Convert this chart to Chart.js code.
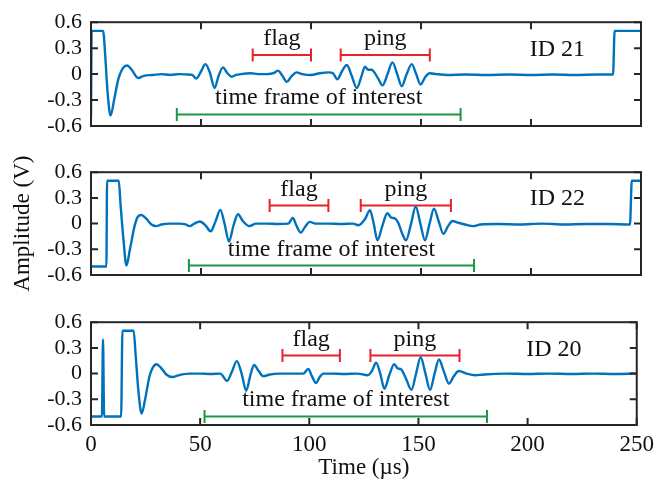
<!DOCTYPE html>
<html>
<head>
<meta charset="utf-8">
<script src="https://cdn.jsdelivr.net/npm/chart.js@4.4.0/dist/chart.umd.min.js"></script>
<style>
  body { margin: 0; background: #fff; }
  #wrap { position: relative; width: 660px; height: 483px; background: #fff; }
  canvas { position: absolute; left: 0; }
</style>
</head>
<body>
<div id="wrap">
  <canvas id="panel21" width="660" height="150" style="top:0px"></canvas>
  <canvas id="panel22" width="660" height="150" style="top:150px"></canvas>
  <canvas id="panel20" width="660" height="183" style="top:300px"></canvas>
</div>
<script>
// Axis ticks
const xTicks = [0, 50, 100, 150, 200, 250];
const xTickLabels = ['0', '50', '100', '150', '200', '250'];
const yTicks = [-0.6, -0.3, 0, 0.3, 0.6];
const yTickLabels = ['-0.6', '-0.3', '0', '0.3', '0.6'];

// ID 21 trace (time in us, amplitude in V)
const id21Time = [0, 0.3, 5.5, 6.5, 7.5, 8.9, 10.5, 12.5, 14.5, 16.4, 18.5, 21.4, 24, 28, 32, 36, 40, 44, 46, 47.9,
  50, 52, 54, 56.2, 58, 60, 62, 64, 66, 68, 72.6, 76, 80, 83, 85, 87, 89, 91, 93.5, 96, 100, 104, 108, 110, 112,
  114, 116.3, 118.5, 120.8, 123, 124.5, 126, 127.5, 128.5, 130.5, 132.5, 134.8, 137, 139.2, 141.2, 143.5, 145.8,
  147.8, 149.8, 152, 154, 157, 162, 170, 180, 190, 200, 210, 220, 230, 237.3, 238, 250];
const id21Amp = [-0.5, 0.5, 0.5, 0.2, -0.2, -0.48, -0.3, -0.05, 0.07, 0.1, 0.05, -0.045, -0.02, -0.01, 0, -0.01, 0, -0.005, -0.01, -0.05,
  0.03, 0.115, 0.02, -0.16, -0.02, 0.078, 0.01, -0.03, -0.01, 0, 0.01, 0, 0, 0.01, 0.04, -0.02, -0.09, -0.03, 0.02, 0, -0.01, 0.01, 0.02, 0.01, -0.06,
  0.03, 0.105, -0.02, -0.16, -0.02, 0.085, 0.05, 0.05, 0.03, -0.05, -0.13, 0, 0.135, 0, -0.14, 0, 0.115,
  0, -0.12, -0.03, 0.01, 0, -0.01, -0.005, -0.01, -0.005, -0.01, -0.005, -0.01, -0.005, -0.005, 0.5, 0.5];

// ID 22 trace
const id22Time = [0, 7, 7.3, 12.6, 13.5, 14.8, 16.1, 17.7, 19.8, 21.3, 22.9, 25, 27.5, 29.7, 32, 36, 40, 43, 44.8, 47,
  49.5, 52, 54.4, 56.5, 58.8, 60.7, 62.7, 64.8, 66.8, 69, 72, 75, 80, 85, 89.7, 91.7, 93.5, 95.3, 97.5, 99.5, 102,
  108, 114, 119, 121.5, 124.5, 126.8, 128.5, 130.2, 132.5, 134.7, 136.5, 138.2, 139.8, 141.5, 143.2, 145.5, 147.6,
  149.7, 151.8, 153.9, 155.9, 158, 160.2, 162.3, 164.4, 167, 170, 173.8, 177, 185, 195, 205, 215, 225, 235, 245,
  245.8, 250];
const id22Amp = [-0.5, -0.5, 0.5, 0.5, 0.2, -0.2, -0.49, -0.3, -0.03, 0.08, 0.1, 0.06, -0.01, -0.03, -0.01, 0, 0, -0.01, -0.03, 0,
  0.025, -0.02, -0.09, 0.02, 0.16, 0, -0.21, -0.02, 0.11, 0.03, -0.03, 0, 0, -0.005, 0, 0.065, -0.03, -0.105, -0.03, 0.02, 0,
  0, -0.005, 0, -0.02, 0.05, 0.155, 0, -0.195, -0.02, 0.12, 0.07, 0.06, 0, -0.12, -0.195, 0, 0.2,
  0, -0.195, 0, 0.175, 0.03, -0.12, -0.03, 0.03, 0.01, -0.01, -0.03, -0.01, -0.005, -0.01, 0, -0.01, -0.005, -0.005, -0.01,
  0.5, 0.5];

// ID 20 trace
const id20Time = [0, 5, 5.5, 6, 13.8, 14.4, 19.5, 20.5, 21.7, 23.2, 24.8, 26.8, 28.3, 30, 32, 34.5, 37.3, 40, 45, 50,
  55, 59.2, 62.3, 64.5, 66.8, 69, 71.1, 73, 74.7, 76.8, 78.9, 82, 86, 92, 97.3, 99.5, 101.2, 103, 104.8, 106.4, 110,
  116, 122, 126.8, 128.7, 130.6, 132.5, 134.4, 136.6, 138.9, 140.5, 142, 144.3, 146.8, 148.9, 151, 153.2, 155.3,
  157.4, 159.4, 161.7, 164, 166.2, 168.5, 172, 176, 180, 190, 200, 210, 220, 230, 240, 250];
const id20Amp = [-0.5, -0.5, 0.4, -0.5, -0.5, 0.5, 0.5, 0.2, -0.2, -0.465, -0.3, -0.03, 0.07, 0.11, 0.07, -0.01, -0.04, -0.02, 0, 0,
  -0.005, 0, -0.085, 0.02, 0.146, 0, -0.2, -0.02, 0.1, 0.03, -0.03, -0.01, 0, 0, 0, 0.055, -0.03, -0.11, -0.04, 0, 0,
  -0.005, 0, -0.02, 0.03, 0.128, 0, -0.176, -0.02, 0.11, 0.06, 0.05, -0.06, -0.19, 0, 0.19, 0, -0.19,
  0, 0.165, 0.02, -0.117, -0.03, 0.03, 0, -0.02, -0.01, 0, -0.005, 0, -0.005, 0, -0.005, 0];

// Marked windows [start, end] in us, panel order: ID 21, ID 22, ID 20
const panelNames = ['ID 21', 'ID 22', 'ID 20'];
const flagWindows = [[73.5, 100], [81.2, 107.9], [87.7, 114]];
const pingWindows = [[113.5, 154], [122.6, 163.6], [128, 168.8]];
const frameWindows = [[39, 168], [44.5, 174.1], [52, 181.4]];
const redLevels = [0.22, 0.21, 0.21];
const greenLevels = [-0.467, -0.49, -0.5];
const idAnchors = [[212, 0.21], [212, 0.22], [212, 0.21]];

const serif = '"Liberation Serif", "Times New Roman", serif';
const blue = '#0072bd';
const red = '#e8212b';
const green = '#1b9646';
const axisColor = '#262626';

// box + inward ticks on all four sides
const framePlugin = {
    id: 'frame',
    afterDraw(chart) {
        const { ctx, chartArea: a, scales } = chart;
        const len = 7;
        ctx.save();
        ctx.strokeStyle = axisColor;
        ctx.lineWidth = 2;
        ctx.beginPath();
        xTicks.forEach(v => {
            const px = scales.x.getPixelForValue(v);
            ctx.moveTo(px, a.top); ctx.lineTo(px, a.top + len);
            ctx.moveTo(px, a.bottom); ctx.lineTo(px, a.bottom - len);
        });
        yTicks.forEach(v => {
            const py = scales.y.getPixelForValue(v);
            ctx.moveTo(a.left, py); ctx.lineTo(a.left + len, py);
            ctx.moveTo(a.right, py); ctx.lineTo(a.right - len, py);
        });
        ctx.stroke();
        ctx.strokeRect(a.left, a.top, a.right - a.left, a.bottom - a.top);
        ctx.restore();
    }
};

// text labels over the brackets
const notePlugin = {
    id: 'notes',
    afterDatasetsDraw(chart) {
        const i = chart.options.panelIndex;
        const { ctx, scales: { x, y } } = chart;
        const mid = w => x.getPixelForValue((w[0] + w[1]) / 2);
        ctx.save();
        ctx.font = '24px ' + serif;
        ctx.fillStyle = '#111';
        ctx.textAlign = 'center';
        ctx.textBaseline = 'alphabetic';
        ctx.fillText('flag', mid(flagWindows[i]), y.getPixelForValue(redLevels[i]) - 10);
        ctx.fillText('ping', mid(pingWindows[i]), y.getPixelForValue(redLevels[i]) - 10);
        ctx.fillText('time frame of interest', mid(frameWindows[i]), y.getPixelForValue(greenLevels[i]) - 10);
        ctx.fillText(panelNames[i], x.getPixelForValue(idAnchors[i][0]), y.getPixelForValue(idAnchors[i][1]));
        ctx.restore();
    }
};

function bracket(span, level, color) {
    return {
        data: [{ x: span[0], y: level }, { x: span[1], y: level }],
        borderColor: color,
        borderWidth: 2,
        pointStyle: 'line',
        pointRotation: 90,
        pointRadius: 6.5,
        pointBorderColor: color,
        pointBorderWidth: 2,
        tension: 0
    };
}

function buildPanel(canvasId, i, time, amp, padding, xHeight, showX) {
    const points = time.map((t, k) => ({ x: t, y: amp[k] }));
    return new Chart(document.getElementById(canvasId), {
        type: 'line',
        data: {
            datasets: [
                { data: points, borderColor: blue, borderWidth: 2.4, pointRadius: 0, cubicInterpolationMode: 'monotone' },
                bracket(flagWindows[i], redLevels[i], red),
                bracket(pingWindows[i], redLevels[i], red),
                bracket(frameWindows[i], greenLevels[i], green)
            ]
        },
        options: {
            panelIndex: i,
            responsive: false,
            animation: false,
            events: [],
            layout: { padding: padding },
            plugins: { legend: { display: false }, tooltip: { enabled: false } },
            scales: {
                x: {
                    type: 'linear', min: 0, max: 250,
                    grid: { display: false, drawTicks: false },
                    border: { display: false },
                    afterBuildTicks: s => { s.ticks = xTicks.map(v => ({ value: v })); },
                    afterFit: s => { s.height = xHeight; },
                    ticks: {
                        display: showX, autoSkip: false, maxRotation: 0, padding: 6,
                        color: '#111', font: { family: serif, size: 23 },
                        callback: (v, k) => xTickLabels[k]
                    },
                    title: {
                        display: showX, text: 'Time (µs)', color: '#111',
                        font: { family: serif, size: 23 }, padding: { top: 0, bottom: 1 }
                    }
                },
                y: {
                    min: -0.6, max: 0.6,
                    grid: { display: false, drawTicks: false },
                    border: { display: false },
                    afterBuildTicks: s => { s.ticks = yTicks.map(v => ({ value: v })); },
                    afterFit: s => { s.width = 91; },
                    ticks: {
                        autoSkip: false, padding: 9, color: '#111',
                        font: { family: serif, size: 22 },
                        callback: (v, k) => yTickLabels[k]
                    },
                    title: {
                        display: i === 1, text: 'Amplitude (V)', color: '#111',
                        font: { family: serif, size: 23 }, padding: { top: 9, bottom: 0 }
                    }
                }
            }
        },
        plugins: [framePlugin, notePlugin]
    });
}

buildPanel('panel21', 0, id21Time, id21Amp, { top: 17, right: 19, bottom: 24, left: 0 }, 0, false);
buildPanel('panel22', 1, id22Time, id22Amp, { top: 16, right: 19, bottom: 25, left: 0 }, 0, false);
buildPanel('panel20', 2, id20Time, id20Amp, { top: 16, right: 19, bottom: 0, left: 0 }, 58, true);
</script>
</body>
</html>
